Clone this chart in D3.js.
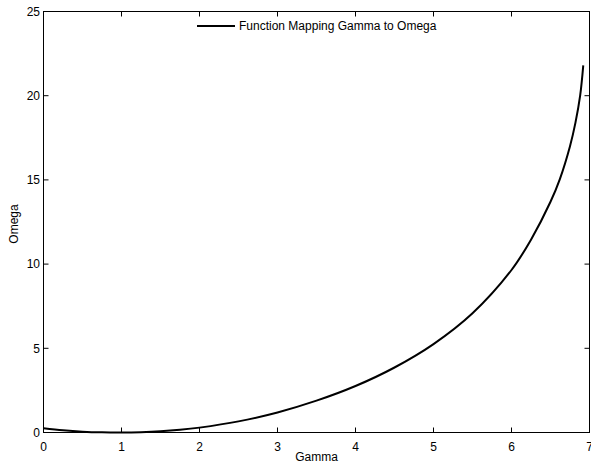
<!DOCTYPE html>
<html><head><meta charset="utf-8">
<script src="https://cdn.jsdelivr.net/npm/d3@7"></script>
<style>body{margin:0;background:#fff}svg{display:block}text{font-family:"Liberation Sans",Arial,sans-serif;fill:#000}</style>
</head><body>
<svg id="c" width="591" height="462"></svg>
<script>
const gammaVals = [0, 0.25, 0.5, 0.75, 1.0, 1.25, 1.5, 1.75, 2.0, 2.5, 3.0, 3.5, 4.0, 4.5, 5.0, 5.5, 6.0, 6.25, 6.5, 6.62, 6.75, 6.82, 6.88, 6.92];
const omegaVals = [0.25, 0.13, 0.05, 0.01, 0.0, 0.02, 0.07, 0.16, 0.29, 0.66, 1.19, 1.89, 2.76, 3.86, 5.25, 7.08, 9.65, 11.45, 13.7, 15.05, 17.0, 18.4, 20.0, 21.8];
const xTicks = [0, 1, 2, 3, 4, 5, 6, 7];
const yTicks = [0, 5, 10, 15, 20, 25];
const seriesName = "Function Mapping Gamma to Omega";
const xLabel = "Gamma", yLabel = "Omega";

const svg = d3.select("#c");
const L = 43.5, R = 589.5, T = 11.5, B = 432.5;
const x = d3.scaleLinear().domain([0, 7]).range([L, R]);
const y = d3.scaleLinear().domain([0, 25]).range([B, T]);
const tl = 5;
const fs = 12;

const g = svg.append("g");
g.append("rect").attr("x", L).attr("y", T).attr("width", R - L).attr("height", B - T)
  .attr("fill", "none").attr("stroke", "#000").attr("stroke-width", 1);

xTicks.forEach(v => {
  g.append("line").attr("x1", x(v)).attr("x2", x(v)).attr("y1", B).attr("y2", B - tl).attr("stroke", "#000");
  g.append("line").attr("x1", x(v)).attr("x2", x(v)).attr("y1", T).attr("y2", T + tl).attr("stroke", "#000");
  g.append("text").attr("x", x(v)).attr("y", 451).attr("text-anchor", "middle").attr("font-size", fs).text(v);
});
yTicks.forEach(v => {
  g.append("line").attr("x1", L).attr("x2", L + tl).attr("y1", y(v)).attr("y2", y(v)).attr("stroke", "#000");
  g.append("line").attr("x1", R).attr("x2", R - tl).attr("y1", y(v)).attr("y2", y(v)).attr("stroke", "#000");
  g.append("text").attr("x", 40).attr("y", y(v)).attr("dy", "0.36em").attr("text-anchor", "end").attr("font-size", fs).text(v);
});

g.append("text").attr("x", (L + R) / 2).attr("y", 461).attr("text-anchor", "middle").attr("font-size", fs).text(xLabel);
g.append("text").attr("transform", `translate(18,${(T + B) / 2 + 2}) rotate(-90)`).attr("text-anchor", "middle").attr("font-size", fs).text(yLabel);

const data = gammaVals.map((gv, i) => [gv, omegaVals[i]]);
const line = d3.line().x(d => x(d[0])).y(d => y(d[1])).curve(d3.curveCatmullRom.alpha(0.5));
g.append("path").datum(data).attr("d", line).attr("fill", "none").attr("stroke", "#000").attr("stroke-width", 2);

g.append("line").attr("x1", 197).attr("x2", 235).attr("y1", 26).attr("y2", 26).attr("stroke", "#000").attr("stroke-width", 2);
g.append("text").attr("x", 239).attr("y", 26).attr("dy", "0.36em").attr("font-size", fs).text(seriesName);
</script>
</body></html>
